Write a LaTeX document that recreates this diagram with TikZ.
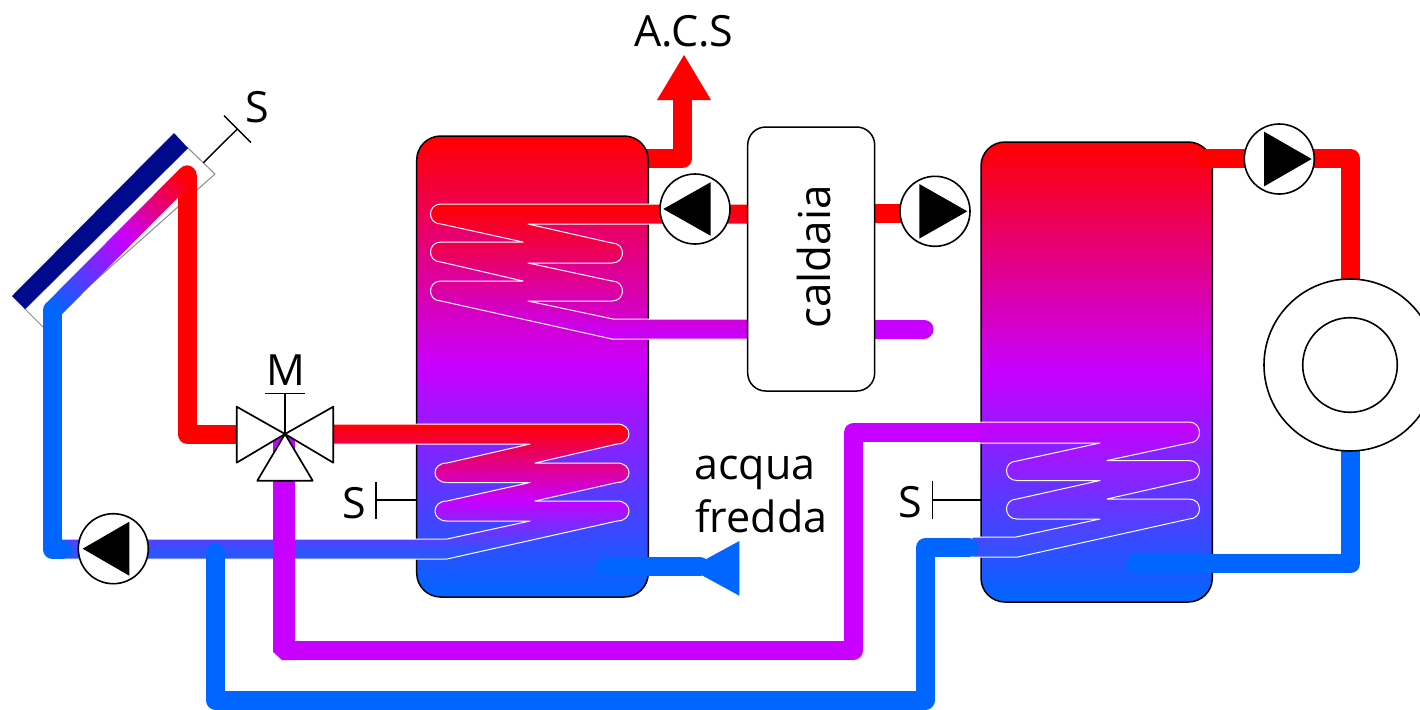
\documentclass[tikz,border=0pt]{standalone}
\usepackage{fontspec}
\setmainfont{Open Sans}
\usetikzlibrary{calc}
\definecolor{cred}{HTML}{FF0000}
\definecolor{cpurple}{HTML}{C800FF}
\definecolor{cblue}{HTML}{0066FF}
\definecolor{cend}{HTML}{2D55FF}
\definecolor{cnavy}{HTML}{000A8C}
\pgfdeclareverticalshading{tankshade}{100bp}{color(0bp)=(cblue); color(25bp)=(cblue); color(50bp)=(cpurple); color(75bp)=(cred); color(100bp)=(cred)}
\pgfdeclareverticalshading{coilAshade}{100bp}{color(0bp)=(cpurple); color(25bp)=(cpurple); color(75bp)=(cred); color(100bp)=(cred)}
\pgfdeclareverticalshading{coilBshade}{100bp}{color(0bp)=(cend); color(27.6bp)=(cend); color(46.7bp)=(cpurple); color(75bp)=(cred); color(100bp)=(cred)}
\pgfdeclareverticalshading{coilCshade}{100bp}{color(0bp)=(cend); color(25bp)=(cend); color(75bp)=(cpurple); color(100bp)=(cpurple)}
\pgfdeclareverticalshading{panelshade}{100bp}{color(0bp)=(cblue); color(18bp)=(cblue); color(50bp)=(cpurple); color(78bp)=(cred); color(100bp)=(cred)}
\tikzset{
  pipe/.style={line width=9.5pt,line join=round},
  hotpipe/.style={pipe,draw=cred},
  coldpipe/.style={pipe,draw=cblue},
  midpipe/.style={pipe,draw=cpurple},
  tankbox/.style={draw=black,line width=.75pt,rounded corners=12pt,shading=tankshade},
  coilline/.style={draw=white,line width=.5pt,line join=round},
  thin line/.style={draw=black,line width=.7pt},
  pumpnode/.style={circle,draw=black,fill=white,line width=.8pt,minimum size=35pt,inner sep=0pt},
  label/.style={font=\fontsize{21.5}{25}\selectfont,text=black,inner sep=0pt,anchor=base},
}
\def\coilA{(760,204) -- (441,204) .. controls (427,204) and (427,224) .. (441,224) -- (523,242) -- (441,242)
  .. controls (427,242) and (427,262) .. (441,262) -- (523,281) -- (441,281)
  .. controls (427,281) and (427,301) .. (441,301) -- (612,339) -- (760,339) -- (760,319) -- (613,319) -- (528,301) -- (612,301)
  .. controls (626,301) and (626,281) .. (612,281) -- (528,263) -- (612,263)
  .. controls (626,263) and (626,243) .. (612,243) -- (528,224) -- (760,224)}
\def\coilB{(330,424) -- (617,424) .. controls (633,424) and (633,444) .. (617,444) -- (535,463) -- (617,463)
  .. controls (633,463) and (633,482.5) .. (617,482.5) -- (535,501) -- (617,501)
  .. controls (633,501) and (633,521) .. (617,521) -- (447,559) -- (60,559) -- (60,539) -- (447,539) -- (530,521) -- (447,521)
  .. controls (431,521) and (431,501) .. (447,501) -- (530,482.5) -- (447,482.5)
  .. controls (431,482.5) and (431,463) .. (447,463) -- (530,444) -- (330,444)}
\def\coilC{(980,422) -- (1189,422) .. controls (1203,422) and (1203,443) .. (1189,443) -- (1107,460.5) -- (1189,460.5)
  .. controls (1203,460.5) and (1203,480.5) .. (1189,480.5) -- (1107,499) -- (1189,499)
  .. controls (1203,499) and (1203,519) .. (1189,519) -- (1018,557) -- (972,557) -- (972,537) -- (1016,537) -- (1100,519) -- (1017,519)
  .. controls (1003,519) and (1003,499) .. (1017,499) -- (1100,480.5) -- (1017,480.5)
  .. controls (1003,480.5) and (1003,461) .. (1017,461) -- (1100,443) -- (980,443)}
\begin{document}
\begin{tikzpicture}[x=0.5pt,y=-0.5pt]
\useasboundingbox (0,0) rectangle (1420,709);
% named junctions
\coordinate (panelTop) at (187,175);
\coordinate (panelLow) at (52.5,310);
\coordinate (valve) at (285,434);
% collector
\draw[draw=black!45,line width=.5pt,fill=white] (188,148) -- (215,174) -- (43,327) -- (25,309) -- cycle;
\fill[cnavy] (174,133) -- (188,148) -- (25,309) -- (12,296) -- cycle;
\draw[thin line] (203.3,162.7) -- (237,129.3);
\draw[thin line] (224,115.7) -- (251,142.7);
\node[label] (sPanel) at (257,122) {S};
% hot tap, cold inlet, boiler lines, tank 2 lines under tanks
\draw[hotpipe] (panelTop) -- (187,434) -- (240,434);
\draw[hotpipe] (640,158.5) -- (682.5,158.5) -- (682.5,95);
\fill[cred] (684,55) -- (711,100) -- (657,100) -- cycle;
\draw[hotpipe] (725,213.8) -- (760,213.8);
\draw[hotpipe] (860,213.8) -- (920,213.8);
\draw[midpipe,line cap=round] (860,329) -- (924,329);
\draw[hotpipe] (1206.6,158.3) -- (1350.5,158.3) -- (1350.5,290);
\draw[coldpipe] (1350.5,440) -- (1350.5,563.7) -- (1210,563.7);
\draw[midpipe] (284,650.5) -- (853.5,650.5) -- (853.5,432.5) -- (985,432.5);
% tanks
\shade[tankbox] (416.7,136) rectangle (648.3,597) node[pos=.5,inner sep=0pt] (tankA) {};
\shade[tankbox] (981,142) rectangle (1212.3,602) node[pos=.5,inner sep=0pt] (tankB) {};
% coils
\shade[shading=coilAshade] \coilA -- cycle;
\draw[coilline] \coilA;
\shade[shading=coilBshade] \coilB -- cycle;
\draw[coilline] \coilB;
\shade[shading=coilCshade] \coilC -- cycle;
\draw[coilline] \coilC;
% overlays
\draw[hotpipe,line cap=round] (1206.6,158.3) -- (1240,158.3);
\draw[coldpipe,line cap=round] (1136,563.7) -- (1215,563.7);
\draw[coldpipe,line cap=round] (606,566.5) -- (700,566.5);
\fill[cblue] (689.3,568.3) -- (739.3,541) -- (739.3,595.7) -- cycle;
\draw[coldpipe,line cap=round] (215.3,553) -- (215.3,700) -- (925.5,700) -- (925.5,547.5) -- (969,547.5);
\draw[coldpipe,line cap=round] (panelLow) -- (52.5,549.5) -- (62,549.5);
\shade[shading=panelshade,shading angle=-45] (46,303.3) -- (180.3,168.3) .. controls (189.3,159.3) and (202.7,172.7) .. (193.7,181.7) -- (59.4,316.7) -- cycle;
\draw[pipe,draw=cpurple,line width=10.85pt] (284,436) -- (284,645);
\fill[cpurple] (273.2,640) -- (295,641) -- (295,660) -- (282,660) -- (273.2,652) -- cycle;
% boiler
\node[draw=black,fill=white,line width=.75pt,rounded corners=9pt,minimum width=63.5pt,minimum height=132pt,inner sep=0pt] (boiler) at (811.2,259) {};
\node[label,rotate=90,font=\fontsize{22}{25}\selectfont] (boilerText) at (830,257) {caldaia};
% radiator
\node[circle,draw=black,fill=white,line width=.8pt,minimum size=86pt,inner sep=0pt] (radOuter) at (1350,365) {};
\node[circle,draw=black,fill=white,line width=.8pt,minimum size=47.3pt,inner sep=0pt] (radInner) at (1350,365) {};
% pumps
\node[pumpnode] (pumpA) at (695,209) {};
\fill (pumpA.center) ++(-31.7,0) -- ++(47.4,-26.8) -- ++(0,53.6) -- cycle;
\node[pumpnode] (pumpB) at (935,211.3) {};
\fill (pumpB.center) ++(32.3,0) -- ++(-48,-27.3) -- ++(0,54.6) -- cycle;
\node[pumpnode] (pumpC) at (1279.3,159) {};
\fill (pumpC.center) ++(32.4,0) -- ++(-47.7,-27.4) -- ++(0,54.8) -- cycle;
\node[pumpnode] (pumpD) at (113.3,548.7) {};
\fill (pumpD.center) ++(-30.6,0) -- ++(46.6,-27) -- ++(0,54) -- cycle;
% valve
\draw[thin line,line width=.85pt,line join=round,fill=white] (valve) -- (236.7,406.7) -- (236.7,462.7) -- cycle;
\draw[thin line,line width=.85pt,line join=round,fill=white] (valve) -- (333.3,406.7) -- (333.3,462.7) -- cycle;
\draw[thin line,line width=.85pt,line join=round,fill=white] (valve) -- (257.3,480.7) -- (312.7,480.7) -- cycle;
\draw[thin line] (valve) -- (285,393.7);
\draw[thin line] (265,393.7) -- (305,393.7);
\node[label] (mValve) at (286,385) {M};
% sensors
\draw[thin line] (416.7,500) -- (376,500);
\draw[thin line] (376,481.7) -- (376,519);
\node[label] (sTankA) at (354,518) {S};
\draw[thin line] (980.7,500) -- (932.3,500);
\draw[thin line] (932.3,481) -- (932.3,519);
\node[label] (sTankB) at (910,517) {S};
% texts
\node[label] (acs) at (684,46) {A.C.S};
\node[label,anchor=base west] (acqua) at (694,479) {acqua};
\node[label,anchor=base west] (fredda) at (695,532) {fredda};
\end{tikzpicture}
\end{document}
